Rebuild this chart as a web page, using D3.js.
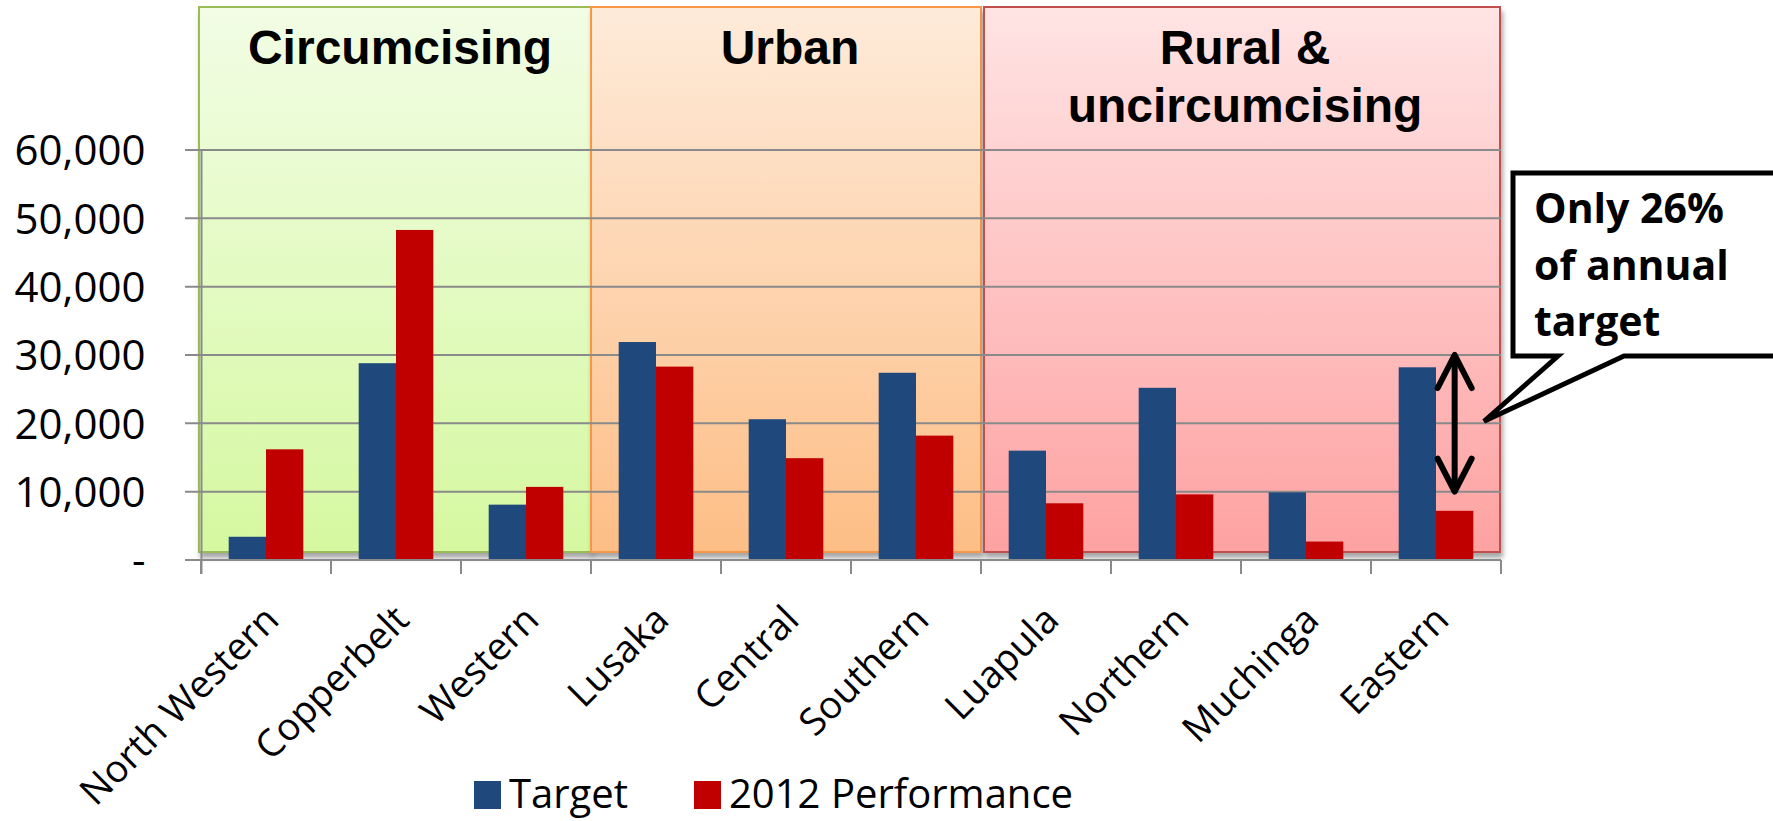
<!DOCTYPE html>
<html>
<head>
<meta charset="utf-8">
<script src="https://cdn.jsdelivr.net/npm/d3@7"></script>
<style>
  html, body { margin: 0; padding: 0; background: #ffffff; }
  svg { display: block; }
</style>
</head>
<body>
<svg id="chart" width="1773" height="821"></svg>
<script>
// ---- data ----
const categories = ["North Western", "Copperbelt", "Western", "Lusaka", "Central", "Southern", "Luapula", "Northern", "Muchinga", "Eastern"];
const targetValues = [3400, 28800, 8100, 31900, 20600, 27400, 16000, 25200, 9900, 28200];
const performanceValues = [16200, 48300, 10700, 28300, 14900, 18200, 8300, 9600, 2700, 7200];
const seriesNames = ["Target", "2012 Performance"];
const yTickValues = [0, 10000, 20000, 30000, 40000, 50000, 60000];
const groupLabels = [["Circumcising"], ["Urban"], ["Rural &", "uncircumcising"]];
const groupStart = [0, 3, 6];
const groupEnd = [3, 6, 10];
const calloutLines = ["Only 26%", "of annual", "target"];
const arrowSpan = [30000, 10000];

// ---- styling ----
const colors = { target: "#1F497D", perf: "#C00000", grid: "#8A8A8A" };
const panelStyles = [
  { top: "#F2FDE5", bottom: "#D5F8A0", stroke: "#9BBB59" },
  { top: "#FEEBDA", bottom: "#FDBE86", stroke: "#F79646" },
  { top: "#FFE4E4", bottom: "#FEA2A2", stroke: "#C0504D" }
];
const labelFont = "'Open Sans', 'DejaVu Sans', sans-serif";
const titleFont = "'Liberation Sans', Arial, sans-serif";

const svg = d3.select("#chart");
const defs = svg.append("defs");

const x = d3.scaleBand().domain(categories).range([201, 1501]).paddingInner(0.426).paddingOuter(0.213);
const xs = d3.scaleBand().domain(seriesNames).range([0, x.bandwidth()]);
const y = d3.scaleLinear().domain([0, 60000]).range([560, 150]);
const step = x.step();
const edge = i => 201 + i * step;

// gradients + shadow
panelStyles.forEach((p, i) => {
  const g = defs.append("linearGradient").attr("id", "pg" + i).attr("x1", 0).attr("y1", 0).attr("x2", 0).attr("y2", 1);
  g.append("stop").attr("offset", "0%").attr("stop-color", p.top);
  g.append("stop").attr("offset", "100%").attr("stop-color", p.bottom);
});
const f = defs.append("filter").attr("id", "shadow").attr("x", "-5%").attr("y", "-5%").attr("width", "115%").attr("height", "115%");
f.append("feDropShadow").attr("dx", 2).attr("dy", 5).attr("stdDeviation", 2.5).attr("flood-color", "#000").attr("flood-opacity", 0.35);

// panels
const panelTop = 7, panelBottom = 552;
const panels = svg.append("g").attr("class", "panels");
groupLabels.forEach((lines, i) => {
  const x0 = edge(groupStart[i]) - (i === 0 ? 2 : 0) + (i === 2 ? 3 : 0);
  const x1 = edge(groupEnd[i]) + (i === 2 ? -1 : 0);
  panels.append("rect")
    .attr("x", x0).attr("y", panelTop)
    .attr("width", x1 - x0).attr("height", panelBottom - panelTop)
    .attr("fill", `url(#pg${i})`)
    .attr("stroke", panelStyles[i].stroke).attr("stroke-width", 2)
    .attr("filter", "url(#shadow)");
});
groupLabels.forEach((lines, i) => {
  const cx = (edge(groupStart[i]) + edge(groupEnd[i])) / 2 + 4;
  const t = panels.append("text")
    .attr("x", cx).attr("y", 64)
    .attr("text-anchor", "middle")
    .attr("font-family", titleFont).attr("font-weight", "bold").attr("font-size", 48)
    .attr("fill", "#000");
  lines.forEach((ln, k) => t.append("tspan").attr("x", cx).attr("dy", k === 0 ? 0 : 58).text(ln));
});

// gridlines
svg.append("g").selectAll("line").data(yTickValues.filter(d => d > 0)).join("line")
  .attr("x1", 185).attr("x2", 1501)
  .attr("y1", d => y(d)).attr("y2", d => y(d))
  .attr("stroke", colors.grid).attr("stroke-width", 2);

// y axis
const yAxis = svg.append("g").attr("transform", "translate(201.5,0)")
  .call(d3.axisLeft(y).tickValues(yTickValues).tickSize(0).tickPadding(56)
    .tickFormat(d => d === 0 ? "-" : d3.format(",")(d)));
yAxis.select(".domain").remove();
yAxis.selectAll("text").attr("font-family", labelFont).attr("font-size", 42).attr("fill", "#000").attr("dy", "0.35em");
svg.append("line").attr("x1", 201.5).attr("x2", 201.5).attr("y1", y(60000)).attr("y2", 574)
  .attr("stroke", colors.grid).attr("stroke-width", 2);

// bars
const bars = svg.append("g");
categories.forEach((c, i) => {
  bars.append("rect").attr("x", x(c) + xs("Target")).attr("y", y(targetValues[i]))
    .attr("width", xs.bandwidth()).attr("height", y(0) - y(targetValues[i])).attr("fill", colors.target);
  bars.append("rect").attr("x", x(c) + xs("2012 Performance")).attr("y", y(performanceValues[i]))
    .attr("width", xs.bandwidth()).attr("height", y(0) - y(performanceValues[i])).attr("fill", colors.perf);
});

// x axis
svg.append("line").attr("x1", 185).attr("x2", 1501).attr("y1", y(0)).attr("y2", y(0))
  .attr("stroke", colors.grid).attr("stroke-width", 2);
svg.append("g").selectAll("line").data(d3.range(categories.length + 1)).join("line")
  .attr("x1", d => edge(d)).attr("x2", d => edge(d))
  .attr("y1", y(0)).attr("y2", 574)
  .attr("stroke", colors.grid).attr("stroke-width", 2);
svg.append("g").selectAll("text").data(categories).join("text")
  .attr("transform", d => `translate(${x(d) + x.bandwidth() / 2 + 15},${622}) rotate(-45)`)
  .attr("text-anchor", "end")
  .attr("font-family", labelFont).attr("font-size", 38).attr("fill", "#000")
  .text(d => d);

// legend
const legend = svg.append("g");
const legendX = [474, 694];
seriesNames.forEach((s, i) => {
  legend.append("rect").attr("x", legendX[i]).attr("y", 781).attr("width", 27).attr("height", 28)
    .attr("fill", i === 0 ? colors.target : colors.perf);
  legend.append("text").attr("x", legendX[i] + 35).attr("y", 808)
    .attr("font-family", labelFont).attr("font-size", 40).attr("fill", "#000").text(s);
});

// arrow annotation (Eastern)
const ax = x("Eastern") + xs("2012 Performance") + xs.bandwidth() / 2;
const ya = y(arrowSpan[0]), yb = y(arrowSpan[1]);
const ann = svg.append("g").attr("stroke", "#000").attr("stroke-width", 6).attr("fill", "none")
  .attr("stroke-linecap", "round").attr("stroke-linejoin", "round");
ann.append("line").attr("x1", ax).attr("x2", ax).attr("y1", ya + 2).attr("y2", yb - 2);
ann.append("path").attr("d", `M${ax - 17},${ya + 33} L${ax},${ya} L${ax + 17},${ya + 33}`);
ann.append("path").attr("d", `M${ax - 17},${yb - 33} L${ax},${yb} L${ax + 17},${yb - 33}`);

// callout
const cb = { l: 1513, t: 173, r: 1790, b: 356 };
const tip = [1484, y(20000) - 2];
svg.append("path")
  .attr("d", `M${cb.l},${cb.t} L${cb.r},${cb.t} L${cb.r},${cb.b} L1624,${cb.b} L${tip[0]},${tip[1]} L1558,${cb.b} L${cb.l},${cb.b} Z`)
  .attr("fill", "#fff").attr("stroke", "#000").attr("stroke-width", 5).attr("stroke-linejoin", "miter");
const ct = svg.append("text").attr("font-family", labelFont).attr("font-weight", "bold").attr("font-size", 41).attr("fill", "#000");
calloutLines.forEach((ln, k) => ct.append("tspan").attr("x", 1534).attr("y", 223 + k * 56.5).text(ln));
</script>
</body>
</html>
